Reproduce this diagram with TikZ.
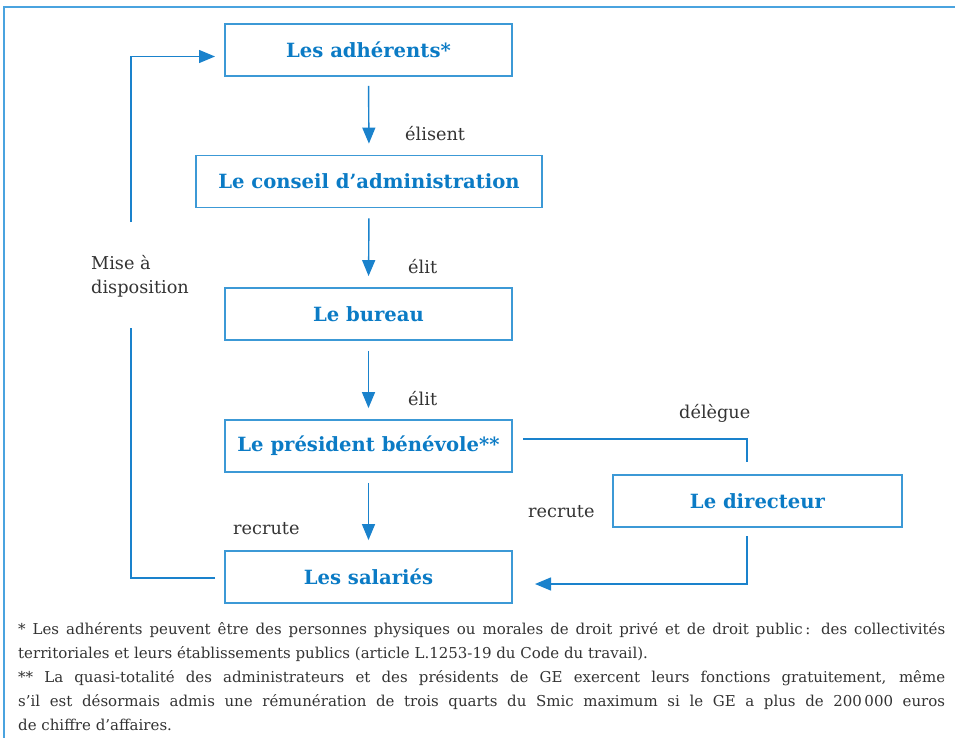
\documentclass[tikz,border=0pt]{standalone}
\usepackage{fontspec}
\setmainfont{DejaVu Serif}
\usetikzlibrary{arrows.meta}
\definecolor{frameblue}{HTML}{4AA3DF}
\definecolor{boxblue}{HTML}{3C99D6}
\definecolor{arrblue}{HTML}{1A82CC}
\definecolor{txtblue}{HTML}{0B7BC5}
\definecolor{txtgray}{HTML}{333333}
\tikzset{
  box/.style={draw=boxblue, line width=1.8pt, minimum height=52pt, inner sep=0pt, text=txtblue, font=\fontsize{19.6}{24}\selectfont\bfseries},
  arr/.style={draw=arrblue, line width=1.4pt, -{Triangle[length=16pt,width=13pt]}},
  conn/.style={draw=arrblue, line width=1.4pt},
  lbl/.style={anchor=base west, inner sep=0pt, text=txtgray, font=\fontsize{17.7}{24}\selectfont},
  fn/.style={anchor=base west, inner sep=0pt, text=txtgray, font=\fontsize{15}{24}\selectfont}
}
\begin{document}
\begin{tikzpicture}[x=1pt,y=-1pt]
\useasboundingbox (0,0) rectangle (955,738);
\draw[frameblue, line width=2pt] (4,738) -- (4,7) -- (955,7);

\node[box, minimum width=287pt] (adh) at (368.5,50) {Les adhérents*};
\node[box, minimum width=346pt] (ca) at (369,181.5) {Le conseil d’administration};
\node[box, minimum width=287pt] (bur) at (368.5,314) {Le bureau};
\node[box, minimum width=287pt] (pres) at (368.5,446) {Le président bénévole**};
\node[box, minimum width=287pt] (sal) at (368.5,577) {Les salariés};
\node[box, minimum width=289pt] (dir) at (757.5,501) {Le directeur};

\draw[arr, shorten <=9pt, shorten >=11pt] (adh.south) -- (ca.north);
\draw[arr, shorten <=10pt, shorten >=11pt] (ca.south) -- (bur.north);
\draw[arr, shorten <=10pt, shorten >=11pt] (bur.south) -- (pres.north);
\draw[arr, shorten <=10pt, shorten >=10pt] (pres.south) -- (sal.north);

\node[lbl] (l1) at (405,140.5) {élisent};
\node[lbl] (l2) at (408,273) {élit};
\node[lbl] (l3) at (408,405) {élit};
\node[lbl] (l4) at (233,534) {recrute};
\node[lbl] (l5) at (679,418) {délègue};
\node[lbl] (l6) at (528,517) {recrute};
\node[lbl] (l7) at (91,269) {Mise à};
\node[lbl] (l8) at (91,293) {disposition};

% delegation
\coordinate (d1) at (523,439);
\coordinate (d2) at (747,462);
\draw[conn] (d1) -| (d2);
\coordinate (r1) at (747,536);
\coordinate (r2) at (535,584);
\draw[arr] (r1) |- (r2);

% left loop
\coordinate (m1) at (215,578);
\coordinate (m2) at (131,328);
\draw[conn] (m1) -| (m2);
\coordinate (m3) at (131,222);
\coordinate (m4) at (215,56.5);
\draw[arr] (m3) |- (m4);

% footnotes
\node[fn] (f1) at (18,634) {\makebox[927pt][s]{* Les adhérents peuvent être des personnes physiques ou morales de droit privé et de droit public\,: des collectivités}};
\node[fn] (f2) at (18,658) {territoriales et leurs établissements publics (article L.1253-19 du Code du travail).};
\node[fn] (f3) at (18,682) {\makebox[927pt][s]{** La quasi-totalité des administrateurs et des présidents de GE exercent leurs fonctions gratuitement, même}};
\node[fn] (f4) at (18,706) {\makebox[927pt][s]{s’il est désormais admis une rémunération de trois quarts du Smic maximum si le GE a plus de 200\,000 euros}};
\node[fn] (f5) at (18,730) {de chiffre d’affaires.};
\end{tikzpicture}
\end{document}
